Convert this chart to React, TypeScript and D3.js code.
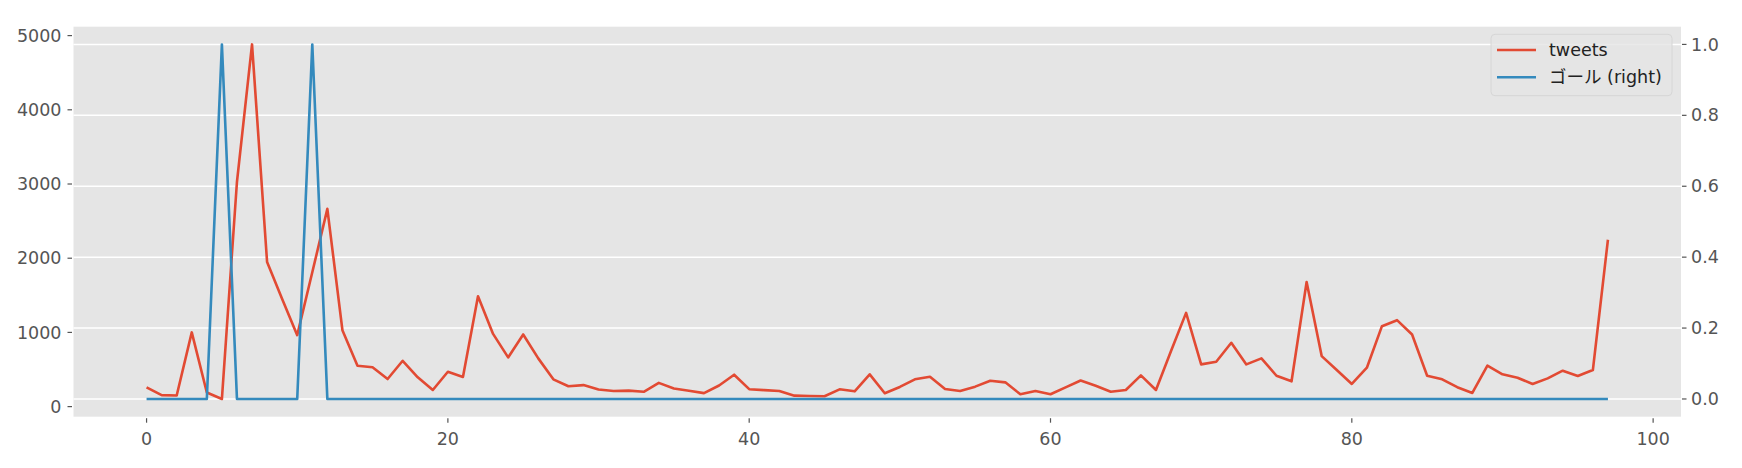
import React from "react";
import * as d3 from "d3";

const tweets: number[] = [
  260, 155, 150, 1000, 190, 103, 3030, 4881, 1948, 1450,
  963, 1810, 2665, 1030, 550, 530, 372, 618, 395, 224,
  470, 400, 1487, 980, 663, 972, 650, 368, 275, 290,
  230, 210, 215, 200, 320, 245, 215, 182, 285, 430,
  235, 222, 210, 148, 143, 140, 233, 206, 435, 180,
  265, 368, 403, 238, 211, 269, 349, 327, 166, 211,
  166, 260, 352, 282, 201, 224, 421, 224, 750, 1263,
  569, 605, 860, 569, 650, 416, 341, 1679, 681, 493,
  305, 524, 1084, 1165, 972, 416, 368, 262, 184, 551,
  435, 390, 305, 381, 484, 412, 493, 2249,
];
const goals: number[] = tweets.map((_, i) => (i === 5 || i === 11 ? 1 : 0));

const xTicks = [0, 20, 40, 60, 80, 100];
const leftTicks = [0, 1000, 2000, 3000, 4000, 5000];
const rightTicks = [0, 0.2, 0.4, 0.6, 0.8, 1.0];
const seriesNames = ["tweets", "ゴール (right)"];
const seriesColors = ["#E24A33", "#348ABD"];

const W = 1742;
const H = 468;
const plot = { left: 73.5, right: 1681, top: 26.7, bottom: 416.7 };
const FONT = "'DejaVu Sans', 'Noto Sans CJK JP', sans-serif";

function pad(lo: number, hi: number): [number, number] {
  const m = (hi - lo) * 0.05;
  return [lo - m, hi + m];
}

export default function App() {
  const n = tweets.length;
  const x = d3.scaleLinear().domain(pad(0, n - 1)).range([plot.left, plot.right]);
  const [tMin, tMax] = d3.extent(tweets) as [number, number];
  const yL = d3.scaleLinear().domain(pad(tMin, tMax)).range([plot.bottom, plot.top]);
  const yR = d3.scaleLinear().domain(pad(0, 1)).range([plot.bottom, plot.top]);

  const lineL = d3.line<number>().x((_, i) => x(i)).y((d) => yL(d));
  const lineR = d3.line<number>().x((_, i) => x(i)).y((d) => yR(d));

  const tickColor = "#555555";
  const fs = 17.5;

  const legX = 1491;
  const legY = 34.3;
  const legW = 181;
  const legH = 61.4;

  return (
    <svg
      width={W}
      height={H}
      style={{ position: "absolute", left: 0, top: 0, background: "#fff" }}
      fontFamily={FONT}
    >
      <rect x={0} y={0} width={W} height={H} fill="#ffffff" />
      <rect
        x={plot.left}
        y={plot.top}
        width={plot.right - plot.left}
        height={plot.bottom - plot.top}
        fill="#E5E5E5"
      />
      {rightTicks.map((t) => (
        <line
          key={"g" + t}
          x1={plot.left}
          x2={plot.right}
          y1={yR(t)}
          y2={yR(t)}
          stroke="#ffffff"
          strokeWidth={1.5}
        />
      ))}
      <path d={lineL(tweets) || ""} fill="none" stroke={seriesColors[0]} strokeWidth={2.6} strokeLinejoin="round" />
      <path d={lineR(goals) || ""} fill="none" stroke={seriesColors[1]} strokeWidth={2.6} strokeLinejoin="round" />

      {/* left axis */}
      {leftTicks.map((t) => (
        <g key={"l" + t}>
          <line x1={plot.left - 6} x2={plot.left - 1.5} y1={yL(t)} y2={yL(t)} stroke={tickColor} strokeWidth={1.2} />
          <text x={plot.left - 12} y={yL(t)} dy="0.35em" textAnchor="end" fontSize={fs} fill={tickColor}>
            {t}
          </text>
        </g>
      ))}
      {/* right axis */}
      {rightTicks.map((t) => (
        <g key={"r" + t}>
          <line x1={plot.right + 1} x2={plot.right + 5.5} y1={yR(t)} y2={yR(t)} stroke={tickColor} strokeWidth={1.2} />
          <text x={plot.right + 10} y={yR(t)} dy="0.35em" textAnchor="start" fontSize={fs} fill={tickColor}>
            {t.toFixed(1)}
          </text>
        </g>
      ))}
      {/* x axis */}
      {xTicks.map((t) => (
        <g key={"x" + t}>
          <line x1={x(t)} x2={x(t)} y1={plot.bottom + 1.5} y2={plot.bottom + 6} stroke={tickColor} strokeWidth={1.2} />
          <text x={x(t)} y={plot.bottom + 28} textAnchor="middle" fontSize={fs} fill={tickColor}>
            {t}
          </text>
        </g>
      ))}

      {/* legend */}
      <rect
        x={legX}
        y={legY}
        width={legW}
        height={legH}
        rx={4}
        fill="#E5E5E5"
        fillOpacity={0.8}
        stroke="#D6D6D6"
        strokeWidth={1}
      />
      {seriesNames.map((name, i) => {
        const cy = 50 + i * 27.3;
        return (
          <g key={name}>
            <line x1={1497} x2={1536} y1={cy} y2={cy} stroke={seriesColors[i]} strokeWidth={2.6} />
            <text x={1549} y={cy} dy="0.35em" fontSize={fs} fill="#222">
              {name}
            </text>
          </g>
        );
      })}
    </svg>
  );
}
